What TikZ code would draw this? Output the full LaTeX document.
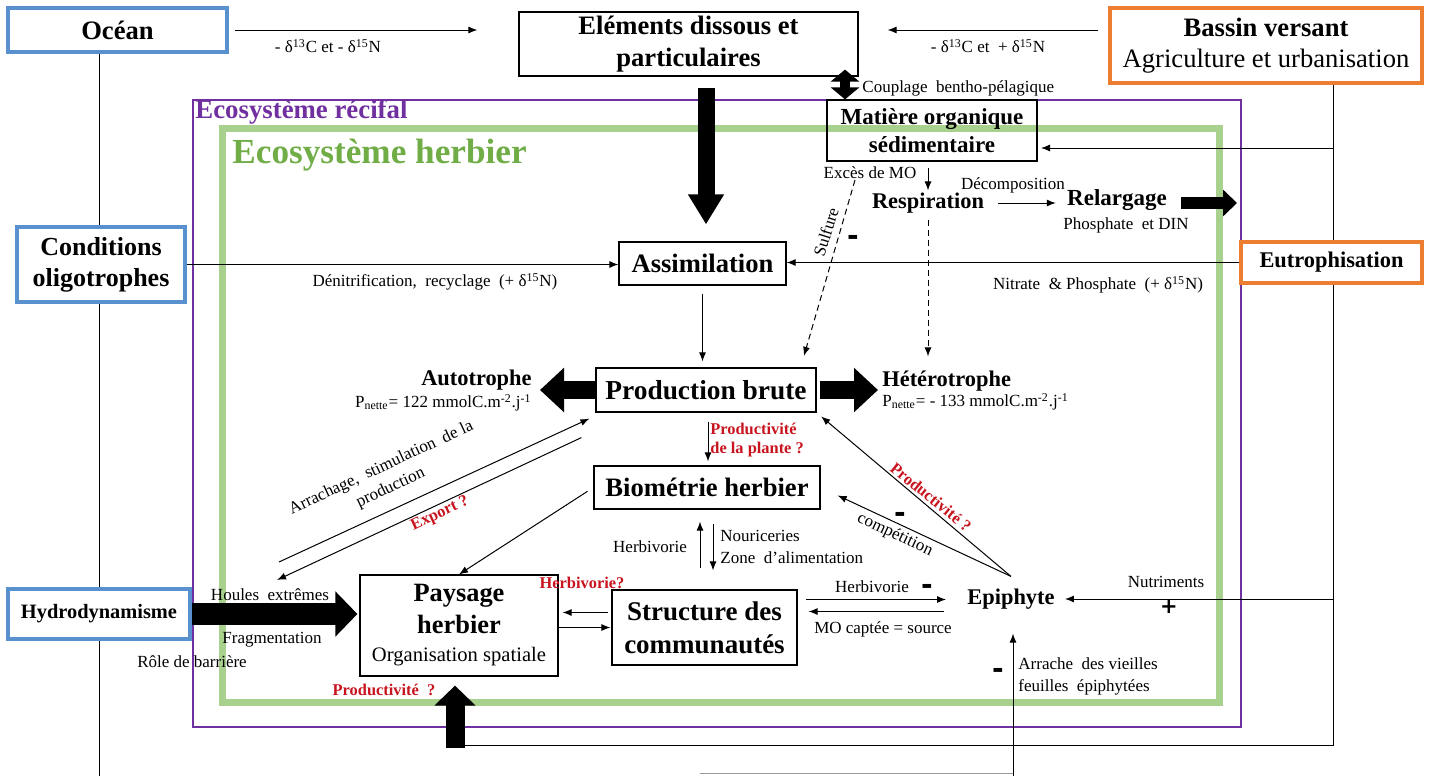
\documentclass[tikz,border=0pt]{standalone}
\usepackage{fontspec}
\setmainfont{Liberation Serif}
\newfontfamily\signfont{DejaVu Sans}
\usetikzlibrary{
  arrows.meta,
  positioning,
  calc,
  backgrounds
}
\definecolor{oceanblue}{RGB}{88,145,205}
\definecolor{basinorange}{RGB}{237,125,49}
\definecolor{reefpurple}{RGB}{112,48,160}
\definecolor{seagrass}{RGB}{169,209,142}
\definecolor{grassgreen}{RGB}{112,173,71}
\definecolor{warnred}{RGB}{200,20,30}

\begin{document}
\begin{tikzpicture}[x=0.5pt, y=-0.5pt,
    every node/.style={inner sep=0pt, align=center},
    box/.style={draw, line width=0.6pt, fill=white},
    bluebox/.style={draw=oceanblue, line width=1.6pt, fill=white},
    orangebox/.style={draw=basinorange, line width=1.6pt, fill=white},
    head/.style={font=\fontsize{13.3}{16}\selectfont\bfseries},
    subhead/.style={font=\fontsize{11.2}{14}\selectfont\bfseries},
    note/.style={font=\fontsize{8.5}{11}\selectfont},
    rednote/.style={text=warnred, font=\fontsize{8.2}{9.6}\selectfont\bfseries},
    sign/.style={font=\signfont\bfseries\fontsize{14}{14}\selectfont},
    plussign/.style={font=\signfont\bfseries\fontsize{10.5}{10.5}\selectfont},
    wire/.style={line width=0.5pt},
    arr/.style={wire, -{Latex[length=4.5pt,width=3.5pt]}},
    dasharr/.style={arr, dash pattern=on 3pt off 2pt},
    fat/.style n args={3}{line width=#1, -{Triangle[width=#2,length=#3]}}
  ]
  \useasboundingbox (0,0) rectangle (1429,776);

  % outside drivers
  \node[bluebox, head, minimum width=109.5pt, minimum height=22pt] (ocean) at (117.5,30) {Océan};
  \node[box, head, minimum width=169.5pt, minimum height=32pt] (elem) at (688.5,44) {Eléments dissous et\\particulaires};
  \node[orangebox, font=\fontsize{13.3}{15.5}\selectfont, minimum width=156pt, minimum height=37.5pt] (bassin) at (1266,45.5) {\textbf{Bassin versant}\\Agriculture et urbanisation};
  \node[bluebox, head, font=\fontsize{13}{15.5}\selectfont\bfseries, minimum width=84pt, minimum height=37.5pt] (cond) at (101,264.5) {Conditions\\oligotrophes};
  \node[orangebox, subhead, minimum width=90.5pt, minimum height=20.5pt] (eutro) at (1331.5,262.5) {Eutrophisation};
  \node[bluebox, font=\fontsize{10.2}{12}\selectfont\bfseries, minimum width=91pt, minimum height=25pt] (hydro) at (99,614) {Hydrodynamisme};

  % ecosystem boxes
  \node[draw, line width=0.6pt, font=\fontsize{11.5}{14}\selectfont\bfseries, minimum width=105pt, minimum height=30.5pt] (mos) at (932,130.5) {Matière organique\\sédimentaire};
  \node[box, head, minimum width=83.5pt, minimum height=21.5pt] (assim) at (702.5,263.5) {Assimilation};
  \node[box, font=\fontsize{13.7}{16}\selectfont\bfseries, minimum width=110pt, minimum height=22pt] (prod) at (706,390) {Production brute};
  \node[box, head, minimum width=113pt, minimum height=21.5pt] (biom) at (707,487.5) {Biométrie herbier};
  \node[box, font=\fontsize{13.2}{16}\selectfont\bfseries, minimum width=99pt, minimum height=50.5pt] (pays) at (459,625.5) {Paysage\\herbier\\[-2pt]{\mdseries\fontsize{10.3}{12}\selectfont Organisation spatiale}};
  \node[box, font=\fontsize{13.5}{16.5}\selectfont\bfseries, minimum width=92.5pt, minimum height=37.5pt] (struct) at (704.5,627.5) {Structure des\\communautés};

  \node[subhead] (resp) at (928,203) {Respiration};
  \node[subhead, font=\fontsize{11.5}{14}\selectfont\bfseries] (relarg) at (1117,200) {Relargage};
  \node[note] (din) at (1126,225) {Phosphate \ et DIN};
  \node[subhead, anchor=east] (auto) at (532,380) {Autotrophe};
  \node[note, anchor=east] (autonet) at (532,403) {P\textsubscript{nette}= 122 mmolC.m\textsuperscript{-2}.j\textsuperscript{-1}};
  \node[subhead, anchor=west] (hetero) at (882,381) {Hétérotrophe};
  \node[note, anchor=west] (heteronet) at (882,402) {P\textsubscript{nette}= - 133 mmolC.m\textsuperscript{-2}.j\textsuperscript{-1}};
  \node[subhead] (epi) at (1011,599) {Epiphyte};
  \coordinate (epitip) at ([yshift=6pt]epi.north);

  % labels
  \node[note] (isoocean) at (328,46) {- δ\textsuperscript{13}C et - δ\textsuperscript{15}N};
  \node[note] (isobassin) at (988,46) {- δ\textsuperscript{13}C et \ + δ\textsuperscript{15}N};
  \node[note, anchor=west] (couplage) at (862,88) {Couplage \ bentho-pélagique};
  \node[note] (exces) at (870,173) {Excès de MO};
  \node[note] (decomp) at (1013,185) {Décomposition};
  \node[note] (denit) at (435,282) {Dénitrification, \ recyclage \ (+ δ\textsuperscript{15}N)};
  \node[note] (nitrate) at (1098,285) {Nitrate \ \& Phosphate \ (+ δ\textsuperscript{15}N)};
  \node[note, rotate=72.6] (sulfure) at (826,232) {Sulfure};
  \node[sign] (minsulf) at (853,240) {-};
  \node[rednote, anchor=west, align=left] (prodplante) at (710,440) {Productivité\\de la plante ?};
  \node[note, rotate=25] (arrach) at (386,478) {Arrachage, \ stimulation \ de la\\production};
  \node[rednote, rotate=25] (export) at (440,514) {Export ?};
  \node[note] (herbup) at (650,547) {Herbivorie};
  \node[note, anchor=west, align=left] (nouri) at (720,547) {Nouriceries\\Zone \ d’alimentation};
  \node[rednote] (herbq) at (582,583) {Herbivorie?};
  \node[note] (herbepi) at (872,587) {Herbivorie};
  \node[sign] (minherb) at (927,589) {-};
  \node[note] (mocapt) at (883,629) {MO captée = source};
  \node[note, rotate=-25] (compet) at (895,535) {compétition};
  \node[sign] (mincomp) at (900,517) {-};
  \node[rednote, rotate=-39] (prodepi) at (931,497) {Productivité ?};
  \node[note] (houle) at (270,595) {Houles \ extrêmes};
  \node[note] (frag) at (272,640) {Fragmentation};
  \node[note] (barr) at (192,662) {Rôle de barrière};
  \node[rednote] (prodpays) at (384,690) {Productivité \ ?};
  \node[note] (nutri) at (1166,582) {Nutriments};
  \node[plussign] (plusnutri) at (1169,607) {+};
  \node[note, anchor=west, align=left] (arrache) at (1018,676) {Arrache \ des vieilles\\feuilles \ épiphytées};
  \node[sign] (minarr) at (998,673) {-};

  \node[anchor=west, text=reefpurple, font=\fontsize{13.4}{16}\selectfont\bfseries] (reeflbl) at (195,112) {Ecosystème récifal};
  \node[anchor=west, text=grassgreen, font=\fontsize{17.6}{20}\selectfont\bfseries] (grasslbl) at (232,155) {Ecosystème herbier};

  % frames and long wires behind the boxes
  \coordinate (oceanfoot) at (99,776);
  \coordinate (bvtop) at ([xshift=33.5pt]bassin.south);
  \coordinate (bvfoot) at (1333,745);
  \coordinate (epifoot) at (1013,776);
  \coordinate (stub) at (700,773);
  \begin{scope}[on background layer]
    \draw[reefpurple, line width=1pt] (193,100) rectangle (1241,727);
    \draw[seagrass, line width=3.5pt] (222,128) rectangle (1219,702);
    \draw[wire] ([xshift=-9.25pt]ocean.south) -- (oceanfoot);
    \draw[wire] (bvtop) -- (bvfoot) -- ([xshift=-2pt]pays.south |- bvfoot);
    \draw[wire, black!40] (stub) -- (epifoot |- stub);
  \end{scope}

  % top arrows
  \draw[arr, shorten <=3pt, shorten >=20.5pt] (ocean.east) -- (ocean.east -| elem.west);
  \draw[arr, shorten <=5pt, shorten >=14.5pt] (bassin.west |- ocean.east) -- (elem.east |- ocean.east);
  \draw[line width=5pt, {Triangle[width=14pt,length=6pt]}-{Triangle[width=14pt,length=6pt]}, shorten <=-3.5pt]
    ([xshift=-43.5pt]mos.north |- elem.south) -- ([xshift=-43.5pt]mos.north);
  \draw[fat={8.5pt}{17pt}{15pt}, shorten <=5.5pt, shorten >=8.5pt]
    ([xshift=1.75pt]assim.north |- elem.south) -- ([xshift=1.75pt]assim.north);

  % sediment side
  \coordinate (mosin) at (1037,148);
  \draw[arr, shorten >=2pt] (bvtop |- mosin) -- (mosin);
  \draw[arr, shorten <=3pt, shorten >=1pt] (mos.south -| resp.north) -- (resp.north);
  \draw[arr, shorten <=7pt, shorten >=5.5pt] (resp.east) -- (resp.east -| relarg.west);
  \coordinate (relout) at (1237,203);
  \draw[fat={6pt}{13pt}{7pt}, shorten <=7pt] (relarg.east |- relout) -- (relout);
  \coordinate (sulftop) at (855,180);
  \draw[dasharr, shorten >=6pt] (sulftop) -- ([xshift=-8pt]prod.north east);
  \draw[dasharr, shorten <=3pt, shorten >=7pt] (resp.south) -- (resp.south |- hetero.north);

  % nutrients into assimilation
  \draw[arr] (cond.east) -- (cond.east -| assim.west);
  \draw[arr] (eutro.west) -- (eutro.west -| assim.east);
  \draw[arr, shorten <=4pt, shorten >=3pt] (assim.south) -- (assim.south |- prod.north);

  % production
  \draw[fat={9pt}{21.5pt}{12pt}, shorten >=4pt] (prod.west) -- (prod.west -| auto.east);
  \draw[fat={9pt}{21.5pt}{12pt}, shorten <=1.5pt, shorten >=2pt] (prod.east) -- (prod.east -| hetero.west);
  \draw[arr, shorten <=4.5pt, shorten >=2pt] ([xshift=1pt]prod.south) -- ([xshift=1pt]prod.south |- biom.north);
  \coordinate (houleup) at (279,562);
  \coordinate (houledown) at (277,580);
  \draw[arr] (houleup) -- ([shift={(-3pt,-3pt)}]prod.south west);
  \draw[arr] ([shift={(-7pt,-12.5pt)}]prod.south west) -- (houledown);
  \draw[arr, shorten <=3.5pt] (biom.west) -- (pays.north);

  % landscape and communities
  \draw[fat={11pt}{22pt}{11pt}, shorten >=1pt] (hydro.east) -- (hydro.east -| pays.west);
  \draw[arr, shorten <=1.5pt, shorten >=2pt] ([yshift=7.5pt]struct.west) -- ([yshift=7.5pt]struct.west -| pays.east);
  \draw[arr, shorten >=0.5pt] (pays.east |- struct.west) -- (struct.west);
  \draw[arr, shorten <=10.5pt, shorten >=6pt] ([xshift=-2.25pt]struct.north) -- ([xshift=-2.25pt]struct.north |- biom.south);
  \draw[arr, shorten <=7pt, shorten >=9.5pt] ([xshift=4.25pt]struct.north |- biom.south) -- ([xshift=4.25pt]struct.north);
  \draw[fat={9.5pt}{20pt}{10pt}, shorten <=-1.5pt, shorten >=4.5pt] ([xshift=-2pt]pays.south |- bvfoot) -- ([xshift=-2pt]pays.south);

  % epiphytes
  \draw[arr, shorten <=4pt, shorten >=10.5pt] ([yshift=14pt]struct.east) -- ([yshift=14pt]struct.east -| epi.west);
  \draw[arr, shorten <=11.5pt, shorten >=5.5pt] ([yshift=8pt]struct.east -| epi.west) -- ([yshift=8pt]struct.east);
  \draw[arr, shorten >=9.4pt] (epitip) -- (biom.east);
  \draw[arr, shorten >=3pt] (epitip) -- (prod.south east);
  \draw[arr, shorten >=5pt] (bvtop |- epi.east) -- (epi.east);
  \draw[arr, shorten >=12pt] (epifoot) -- (epifoot |- epi.south);
\end{tikzpicture}
\end{document}
